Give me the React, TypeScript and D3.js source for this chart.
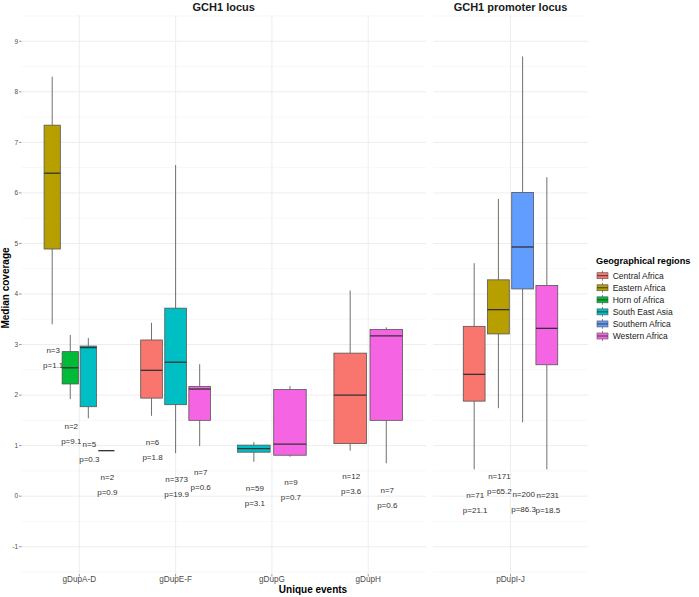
import React from "react";
import * as d3 from "d3";

// ---- data ----
const locusCategories = ["gDupA-D", "gDupE-F", "gDupG", "gDupH"];
const promoterCategories = ["pDupI-J"];
const regions = [
  "Central Africa",
  "Eastern Africa",
  "Horn of Africa",
  "South East Asia",
  "Southern Africa",
  "Western Africa",
];
const regionColors = ["#F8766D", "#B79F00", "#00BA38", "#00BFC4", "#619CFF", "#F564E3"];
const yTicks = [-1, 0, 1, 2, 3, 4, 5, 6, 7, 8, 9];

const boxEvent = [
  "gDupA-D", "gDupA-D", "gDupA-D", "gDupA-D",
  "gDupE-F", "gDupE-F", "gDupE-F",
  "gDupG", "gDupG",
  "gDupH", "gDupH",
  "pDupI-J", "pDupI-J", "pDupI-J", "pDupI-J",
];
const boxRegion = [
  "Eastern Africa", "Horn of Africa", "South East Asia", "Western Africa",
  "Central Africa", "South East Asia", "Western Africa",
  "South East Asia", "Western Africa",
  "Central Africa", "Western Africa",
  "Central Africa", "Eastern Africa", "Southern Africa", "Western Africa",
];
const boxLower = [3.40, 1.92, 1.54, 0.90, 1.59, 0.85, 0.99, 0.68, 0.78, 0.90, 0.65, 0.53, 1.74, 1.46, 0.53];
const boxQ1 = [4.89, 2.22, 1.77, 0.90, 1.94, 1.81, 1.50, 0.87, 0.81, 1.04, 1.50, 1.88, 3.21, 4.10, 2.60];
const boxMedian = [6.39, 2.54, 2.94, 0.90, 2.49, 2.65, 2.12, 0.94, 1.03, 2.00, 3.17, 2.41, 3.69, 4.93, 3.32];
const boxQ3 = [7.34, 2.86, 2.97, 0.90, 3.09, 3.72, 2.17, 1.01, 2.11, 2.83, 3.30, 3.36, 4.28, 6.01, 4.17];
const boxUpper = [8.30, 3.19, 3.13, 0.90, 3.43, 6.55, 2.61, 1.07, 2.18, 4.07, 3.34, 4.61, 5.88, 8.70, 6.31];
const boxN = [3, 2, 5, 2, 6, 373, 7, 59, 9, 12, 7, 71, 171, 200, 231];
const boxP = ["1.1", "9.1", "0.3", "0.9", "1.8", "19.9", "0.6", "3.1", "0.7", "3.6", "0.6", "21.1", "65.2", "86.3", "18.5"];
const labelY = [2.88, 1.39, 1.02, 0.37, 1.07, 0.34, 0.48, 0.16, 0.28, 0.39, 0.12, 0.01, 0.40, 0.04, 0.01];

// ---- layout ----
const W = 699;
const H = 597;
const panelTop = 15;
const panelBottom = 574;
const FONT = "'Liberation Sans', Arial, Helvetica, sans-serif";

const y = d3.scaleLinear().domain([-1.54, 9.52]).range([panelBottom, panelTop]);

const panels = [
  { title: "GCH1 locus", cats: locusCategories, x0: 21.5, x1: 426 },
  { title: "GCH1 promoter locus", cats: promoterCategories, x0: 433, x1: 588 },
];

const majorY = yTicks;
const minorY = d3.range(-1.5, 9.51, 1);

export default function App() {
  const colorScale = d3.scaleOrdinal<string, string>().domain(regions).range(regionColors);

  const panelEls = panels.map((p, pi) => {
    const x = d3.scalePoint<string>().domain(p.cats).range([p.x0, p.x1]).padding(0.6);
    const step = x.step();
    const boxes: React.ReactNode[] = [];
    const labels: React.ReactNode[] = [];
    p.cats.forEach((cat) => {
      const idx = boxEvent.map((e, i) => (e === cat ? i : -1)).filter((i) => i >= 0);
      const k = idx.length;
      const slot = (0.75 * step) / k;
      const bw = slot * 0.9;
      const cx0 = (x(cat) as number) - (0.75 * step) / 2;
      idx.forEach((i, j) => {
        const cx = cx0 + slot * (j + 0.5);
        const fill = colorScale(boxRegion[i]);
        boxes.push(
          <g key={`b${i}`}>
            <line x1={cx} x2={cx} y1={y(boxUpper[i])} y2={y(boxQ3[i])} stroke="#707070" strokeWidth={1} />
            <line x1={cx} x2={cx} y1={y(boxQ1[i])} y2={y(boxLower[i])} stroke="#707070" strokeWidth={1} />
            <rect
              x={cx - bw / 2}
              y={y(boxQ3[i])}
              width={bw}
              height={Math.max(0, y(boxQ1[i]) - y(boxQ3[i]))}
              fill={fill}
              stroke="#555"
              strokeWidth={0.8}
            />
            <line x1={cx - bw / 2} x2={cx + bw / 2} y1={y(boxMedian[i])} y2={y(boxMedian[i])} stroke="#333" strokeWidth={1.3} />
          </g>
        );
        labels.push(
          <g key={`l${i}`} fontSize={8} fill="#333" textAnchor="middle" fontFamily={FONT}>
            <text x={cx + 1} y={y(labelY[i])} dy="0.35em">{`n=${boxN[i]}`}</text>
            <text x={cx + 1} y={y(labelY[i]) + 15} dy="0.35em">{`p=${boxP[i]}`}</text>
          </g>
        );
      });
    });
    return (
      <g key={`p${pi}`}>
        {minorY.map((v) => (
          <line key={`mi${v}`} x1={p.x0} x2={p.x1} y1={y(v)} y2={y(v)} stroke="#f2f2f2" strokeWidth={0.6} />
        ))}
        {majorY.map((v) => (
          <line key={`ma${v}`} x1={p.x0} x2={p.x1} y1={y(v)} y2={y(v)} stroke="#ebebeb" strokeWidth={0.9} />
        ))}
        {p.cats.map((c) => (
          <line key={`vx${c}`} x1={x(c)} x2={x(c)} y1={panelTop} y2={panelBottom} stroke="#ebebeb" strokeWidth={0.9} />
        ))}
        {boxes}
        {labels}
        {p.cats.map((c) => (
          <g key={`xt${c}`}>
            <line x1={x(c)} x2={x(c)} y1={panelBottom} y2={panelBottom + 2.5} stroke="#555" strokeWidth={0.6} />
            <text x={x(c)} y={581.5} fontSize={8.2} fill="#4d4d4d" textAnchor="middle" fontFamily={FONT}>
              {c}
            </text>
          </g>
        ))}
        <text
          x={(p.x0 + p.x1) / 2}
          y={10.5}
          fontSize={11}
          fontWeight="bold"
          fill="#1a1a1a"
          textAnchor="middle"
          fontFamily={FONT}
        >
          {p.title}
        </text>
      </g>
    );
  });

  return (
    <svg
      width={W}
      height={H}
      style={{ position: "absolute", left: 0, top: 0, background: "#fff" }}
      fontFamily={FONT}
    >
      <rect width={W} height={H} fill="#fff" />
      {panelEls}
      {/* y axis */}
      {yTicks.map((v) => (
        <g key={`yt${v}`}>
          <line x1={19} x2={21.5} y1={y(v)} y2={y(v)} stroke="#555" strokeWidth={0.6} />
          <text x={18} y={y(v)} dy="0.35em" fontSize={6.5} fill="#4d4d4d" textAnchor="end">
            {v}
          </text>
        </g>
      ))}
      <text
        transform={`translate(9,288) rotate(-90)`}
        fontSize={10}
        fontWeight="bold"
        textAnchor="middle"
        fill="#000"
      >
        Median coverage
      </text>
      <text x={313} y={593} fontSize={10} fontWeight="bold" textAnchor="middle" fill="#000">
        Unique events
      </text>
      {/* legend */}
      <text x={596} y={264.3} fontSize={9.2} fontWeight="bold" fill="#000">
        Geographical regions
      </text>
      {regions.map((r, i) => {
        const cy = 275.7 + i * 12.06;
        const kx0 = 597;
        const kx1 = 608;
        const kc = (kx0 + kx1) / 2;
        return (
          <g key={`lg${r}`}>
            <line x1={kc} x2={kc} y1={cy - 5} y2={cy + 5} stroke="#6e6e6e" strokeWidth={0.8} />
            <rect x={kx0} y={cy - 3} width={kx1 - kx0} height={6} fill={regionColors[i]} stroke="#555" strokeWidth={0.6} />
            <line x1={kx0} x2={kx1} y1={cy} y2={cy} stroke="#333" strokeWidth={0.9} />
            <text x={612.7} y={cy} dy="0.35em" fontSize={8.5} fill="#1a1a1a">
              {r}
            </text>
          </g>
        );
      })}
    </svg>
  );
}
